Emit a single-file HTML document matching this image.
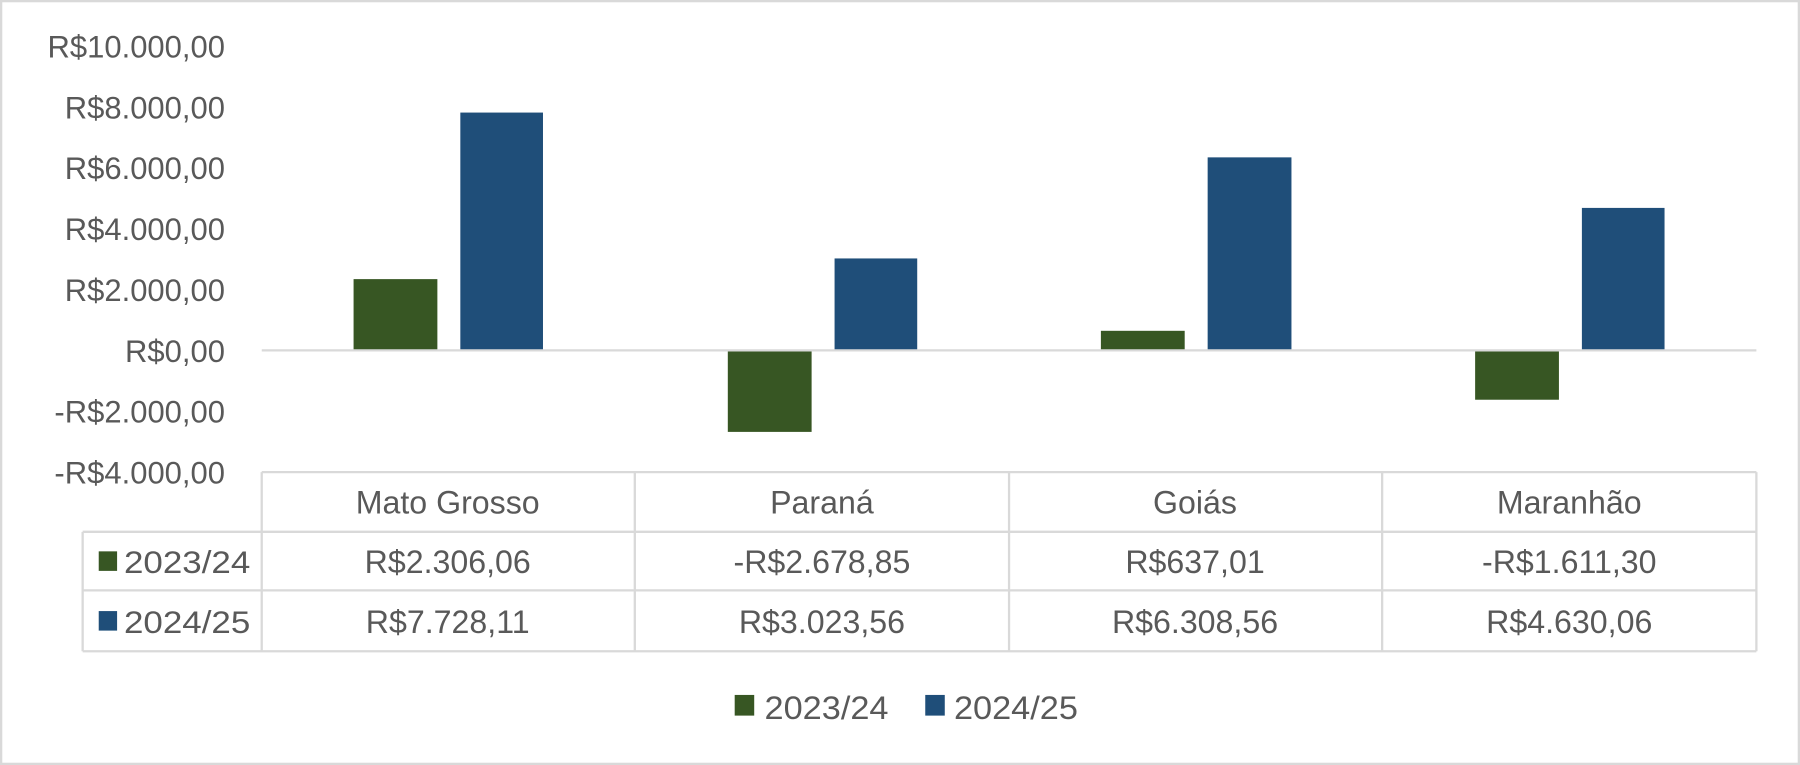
<!DOCTYPE html>
<html><head><meta charset="utf-8"><style>html,body{margin:0;padding:0;background:#fff}svg{display:block}</style></head>
<body>
<svg width="1800" height="765" viewBox="0 0 1568 666" preserveAspectRatio="none" xmlns="http://www.w3.org/2000/svg" font-family="'Liberation Sans', sans-serif" fill="#595959">
<rect x="1" y="1" width="1566" height="664" fill="#fff" stroke="#d9d9d9" stroke-width="2"/>
<g font-size="27" text-anchor="end">
<text x="196" y="50">R$10.000,00</text>
<text x="196" y="103">R$8.000,00</text>
<text x="196" y="156">R$6.000,00</text>
<text x="196" y="209">R$4.000,00</text>
<text x="196" y="262">R$2.000,00</text>
<text x="196" y="315">R$0,00</text>
<text x="196" y="368">-R$2.000,00</text>
<text x="196" y="421">-R$4.000,00</text>
</g>
<g fill="#375623">
<rect x="308" y="243" width="73" height="62"/>
<rect x="634" y="305" width="73" height="71"/>
<rect x="959" y="288" width="73" height="17"/>
<rect x="1285" y="305" width="73" height="43"/>
</g>
<g fill="#1f4e79">
<rect x="401" y="98" width="72" height="207"/>
<rect x="727" y="225" width="72" height="80"/>
<rect x="1052" y="137" width="73" height="168"/>
<rect x="1378" y="181" width="72" height="124"/>
</g>
<g stroke="#d9d9d9" stroke-width="2" fill="none">
<line x1="228" y1="305" x2="1530" y2="305"/>
<line x1="228" y1="411" x2="1530" y2="411"/>
<line x1="72" y1="463" x2="1530" y2="463"/>
<line x1="72" y1="514" x2="1530" y2="514"/>
<line x1="72" y1="567" x2="1530" y2="567"/>
<line x1="72" y1="463" x2="72" y2="567"/>
<line x1="228" y1="411" x2="228" y2="567"/>
<line x1="553" y1="411" x2="553" y2="567"/>
<line x1="879" y1="411" x2="879" y2="567"/>
<line x1="1204" y1="411" x2="1204" y2="567"/>
<line x1="1530" y1="411" x2="1530" y2="567"/>
</g>
<g font-size="28" text-anchor="middle">
<text x="390" y="447">Mato Grosso</text>
<text x="716" y="447">Paraná</text>
<text x="1041" y="447">Goiás</text>
<text x="1367" y="447">Maranhão</text>
<text x="390" y="499">R$2.306,06</text>
<text x="716" y="499">-R$2.678,85</text>
<text x="1041" y="499">R$637,01</text>
<text x="1367" y="499">-R$1.611,30</text>
<text x="390" y="551">R$7.728,11</text>
<text x="716" y="551">R$3.023,56</text>
<text x="1041" y="551">R$6.308,56</text>
<text x="1367" y="551">R$4.630,06</text>
</g>
<rect x="86" y="480" width="16" height="17" fill="#375623"/>
<rect x="86" y="532" width="16" height="17" fill="#1f4e79"/>
<g font-size="27">
<text x="108" y="499" textLength="110" lengthAdjust="spacingAndGlyphs">2023/24</text>
<text x="108" y="551" textLength="110" lengthAdjust="spacingAndGlyphs">2024/25</text>
</g>
<rect x="640" y="605" width="17" height="18" fill="#375623"/>
<rect x="806" y="605" width="17" height="18" fill="#1f4e79"/>
<g font-size="28">
<text x="666" y="626" textLength="108" lengthAdjust="spacingAndGlyphs">2023/24</text>
<text x="831" y="626" textLength="108" lengthAdjust="spacingAndGlyphs">2024/25</text>
</g>
</svg>
</body></html>
